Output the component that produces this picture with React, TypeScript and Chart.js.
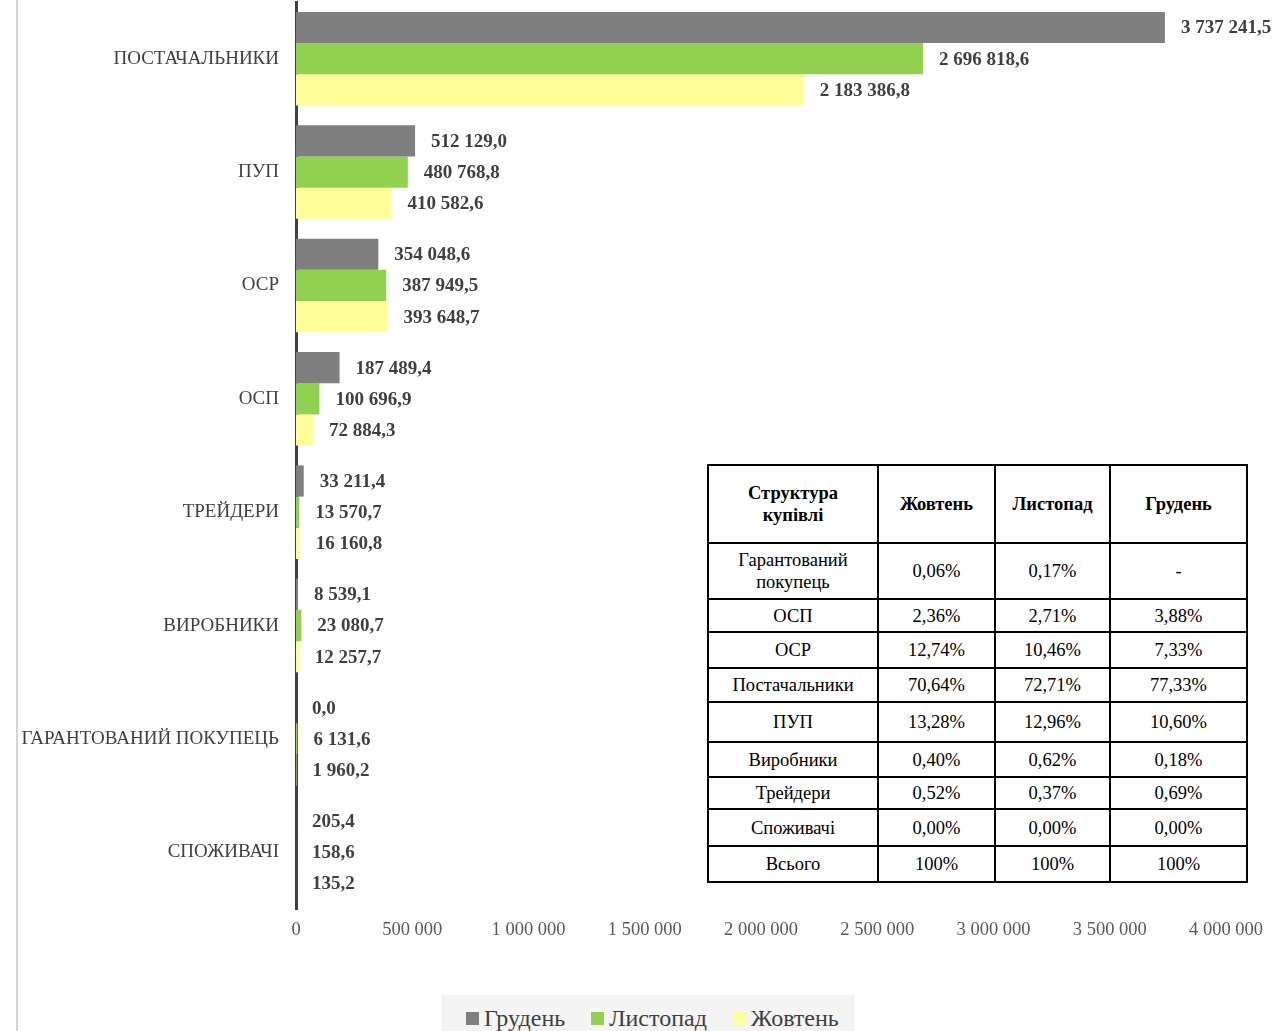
import React, { useEffect, useRef } from "react";
import { Chart, registerables } from "chart.js";

Chart.register(...registerables);

const categories = [
  "ПОСТАЧАЛЬНИКИ",
  "ПУП",
  "ОСР",
  "ОСП",
  "ТРЕЙДЕРИ",
  "ВИРОБНИКИ",
  "ГАРАНТОВАНИЙ ПОКУПЕЦЬ",
  "СПОЖИВАЧІ",
];
const seriesNames = ["Грудень", "Листопад", "Жовтень"];
const dec = [3737241.5, 512129.0, 354048.6, 187489.4, 33211.4, 8539.1, 0.0, 205.4];
const nov = [2696818.6, 480768.8, 387949.5, 100696.9, 13570.7, 23080.7, 6131.6, 158.6];
const oct = [2183386.8, 410582.6, 393648.7, 72884.3, 16160.8, 12257.7, 1960.2, 135.2];
const seriesColors = ["#7f7f7f", "#92d050", "#ffff99"];
const xTicksMax = 4000000;
const xTicksStep = 500000;

const tableHeader = ["Структура\nкупівлі", "Жовтень", "Листопад", "Грудень"];
const tableRows: string[][] = [
  ["Гарантований\nпокупець", "0,06%", "0,17%", "-"],
  ["ОСП", "2,36%", "2,71%", "3,88%"],
  ["ОСР", "12,74%", "10,46%", "7,33%"],
  ["Постачальники", "70,64%", "72,71%", "77,33%"],
  ["ПУП", "13,28%", "12,96%", "10,60%"],
  ["Виробники", "0,40%", "0,62%", "0,18%"],
  ["Трейдери", "0,52%", "0,37%", "0,69%"],
  ["Споживачі", "0,00%", "0,00%", "0,00%"],
  ["Всього", "100%", "100%", "100%"],
];
const colWidths = [170, 117, 115, 137];
const rowHeights = [78, 56, 33, 36, 34, 40, 35, 32, 37, 36];

const FONT = "'Liberation Serif', 'Times New Roman', serif";

function groupThousands(s: string): string {
  return s.replace(/\B(?=(\d{3})+(?!\d))/g, " ");
}
function fmtTick(v: number): string {
  return groupThousands(String(Math.round(v)));
}
function fmtValue(v: number): string {
  const [i, d] = v.toFixed(1).split(".");
  return groupThousands(i) + "," + d;
}

const labelPlugin = {
  id: "valueLabels",
  afterDatasetsDraw(chart: any) {
    const ctx = chart.ctx;
    ctx.save();
    ctx.font = `bold 19px ${FONT}`;
    ctx.fillStyle = "#404040";
    ctx.textAlign = "left";
    ctx.textBaseline = "middle";
    chart.data.datasets.forEach((ds: any, di: number) => {
      const meta = chart.getDatasetMeta(di);
      meta.data.forEach((bar: any, i: number) => {
        ctx.fillText(fmtValue(ds.data[i]), bar.x + 16, bar.y + 1);
      });
    });
    ctx.restore();
  },
};

export default function App() {
  const ref = useRef<HTMLCanvasElement>(null);
  useEffect(() => {
    if (!ref.current) return;
    const chart = new Chart(ref.current, {
      type: "bar",
      data: {
        labels: categories,
        datasets: [dec, nov, oct].map((d, i) => ({
          label: seriesNames[i],
          data: d,
          backgroundColor: seriesColors[i],
          borderWidth: 0,
          categoryPercentage: 0.825,
          barPercentage: 1,
        })),
      },
      options: {
        indexAxis: "y",
        animation: false,
        responsive: false,
        devicePixelRatio: 1,
        layout: { padding: { top: 2, right: 50, left: 0, bottom: 0 } },
        plugins: { legend: { display: false }, tooltip: { enabled: false } },
        scales: {
          x: {
            min: 0,
            max: xTicksMax,
            grid: { display: false, drawTicks: false },
            border: { display: false },
            afterFit: (s: any) => {
              s.height = 122;
              s.paddingLeft = 0;
              s.paddingRight = 0;
            },
            ticks: {
              stepSize: xTicksStep,
              padding: 10,
              color: "#595959",
              font: { family: FONT, size: 18.5 },
              callback: (v: any) => fmtTick(Number(v)),
              maxRotation: 0,
              autoSkip: false,
            },
          },
          y: {
            grid: { display: false, drawTicks: false },
            border: { display: true, color: "#404040", width: 3 },
            afterFit: (s: any) => {
              s.width = 296;
              s.paddingTop = 0;
              s.paddingBottom = 0;
            },
            ticks: {
              padding: 17,
              color: "#404040",
              font: { family: FONT, size: 19 },
              autoSkip: false,
            },
          },
        },
      },
      plugins: [labelPlugin],
    } as any);
    return () => chart.destroy();
  }, []);

  const cellBase: React.CSSProperties = {
    border: "2px solid #000",
    textAlign: "center",
    verticalAlign: "middle",
    padding: 0,
    whiteSpace: "pre-line",
    lineHeight: "22px",
  };

  return (
    <div
      style={{
        position: "fixed",
        left: 0,
        top: 0,
        width: 1276,
        height: 1031,
        background: "#fff",
        overflow: "hidden",
        fontFamily: FONT,
      }}
    >
      <div
        style={{
          position: "absolute",
          left: 16,
          top: 0,
          width: 2,
          height: 1031,
          background: "#d4d4d4",
        }}
      />
      <canvas ref={ref} width={1276} height={1031} style={{ position: "absolute", left: 0, top: 0 }} />
      <table
        style={{
          position: "absolute",
          left: 707,
          top: 464,
          borderCollapse: "collapse",
          fontFamily: FONT,
          fontSize: 18.5,
          color: "#000",
          background: "#fff",
          tableLayout: "fixed",
          width: 539,
        }}
      >
        <colgroup>
          {colWidths.map((w, i) => (
            <col key={i} style={{ width: w }} />
          ))}
        </colgroup>
        <tbody>
          <tr style={{ height: rowHeights[0] }}>
            {tableHeader.map((h, i) => (
              <td key={i} style={{ ...cellBase, fontWeight: "bold" }}>
                {h}
              </td>
            ))}
          </tr>
          {tableRows.map((r, ri) => (
            <tr key={ri} style={{ height: rowHeights[ri + 1] }}>
              {r.map((c, ci) => (
                <td key={ci} style={cellBase}>
                  {c}
                </td>
              ))}
            </tr>
          ))}
        </tbody>
      </table>
      <div
        style={{
          position: "absolute",
          left: 441,
          top: 995,
          width: 414,
          height: 40,
          background: "#f4f4f4",
          display: "flex",
          alignItems: "center",
          boxSizing: "border-box",
          paddingLeft: 25,
          paddingTop: 6,
          fontSize: 24,
          color: "#404040",
        }}
      >
        {seriesNames.map((n, i) => (
          <div key={i} style={{ display: "flex", alignItems: "center", marginRight: 26 }}>
            <span
              style={{
                display: "inline-block",
                width: 13,
                height: 13,
                background: seriesColors[i],
                marginRight: 5,
              }}
            />
            <span>{n}</span>
          </div>
        ))}
      </div>
    </div>
  );
}
